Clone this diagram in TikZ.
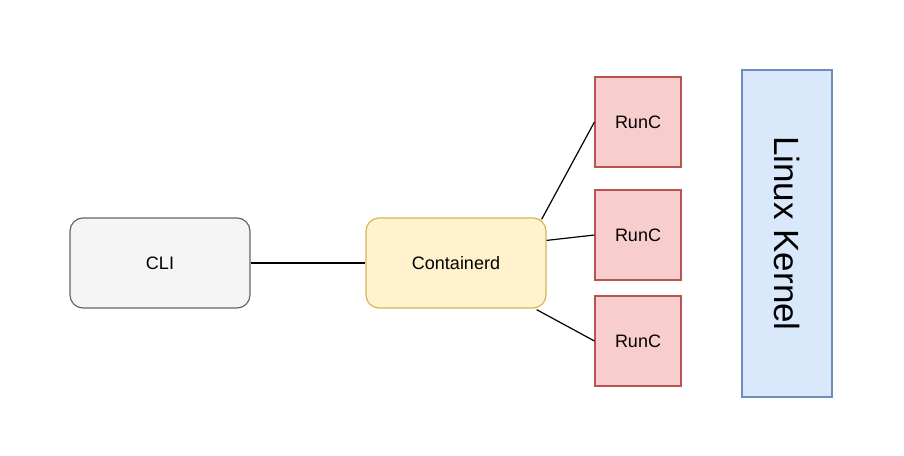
\documentclass[tikz,border=0pt]{standalone}
\usepackage{fontspec}
\setmainfont{Liberation Sans}
\usetikzlibrary{calc}
\definecolor{grayfill}{HTML}{F5F5F5}
\definecolor{graydraw}{HTML}{666666}
\definecolor{yelfill}{HTML}{FFF2CC}
\definecolor{yeldraw}{HTML}{D6B656}
\definecolor{redfill}{HTML}{F8CECC}
\definecolor{reddraw}{HTML}{B85450}
\definecolor{bluefill}{HTML}{DAE8FC}
\definecolor{bluedraw}{HTML}{6C8EBF}
\tikzset{
  box/.style={draw, line width=1.2pt, inner sep=0pt, font=\fontsize{18}{21}\selectfont},
  roundbox/.style={box, rounded corners=13pt, minimum width=180pt, minimum height=90pt},
  runbox/.style={box, fill=redfill, draw=reddraw, minimum width=86pt, minimum height=90pt},
  link/.style={line width=1.2pt, black}
}
\begin{document}
\begin{tikzpicture}[x=1pt,y=-1pt]
\useasboundingbox (0,0) rectangle (904,455);
\node[roundbox, fill=grayfill, draw=graydraw] (cli) at (160,263) {CLI};
\node[roundbox, fill=yelfill, draw=yeldraw] (ctd) at (456,263) {Containerd};
\node[runbox] (r1) at (638,122) {RunC};
\node[runbox] (r2) at (638,235) {RunC};
\node[runbox] (r3) at (638,341) {RunC};
\node[box, fill=bluefill, draw=bluedraw, minimum width=90pt, minimum height=327pt] (lk) at (787,233.5) {};
\node[rotate=-90, font=\fontsize{35}{40}\selectfont] (lkt) at (lk.center) {Linux Kernel};
\draw[link] (cli.east) -- (ctd.west);
\draw[link] ($(ctd.north east)+(-5,2)$) -- (r1.west);
\draw[link] ($(ctd.north east)+(0,23)$) -- (r2.west);
\draw[link] ($(ctd.south east)+(-10,1)$) -- (r3.west);
\end{tikzpicture}
\end{document}
